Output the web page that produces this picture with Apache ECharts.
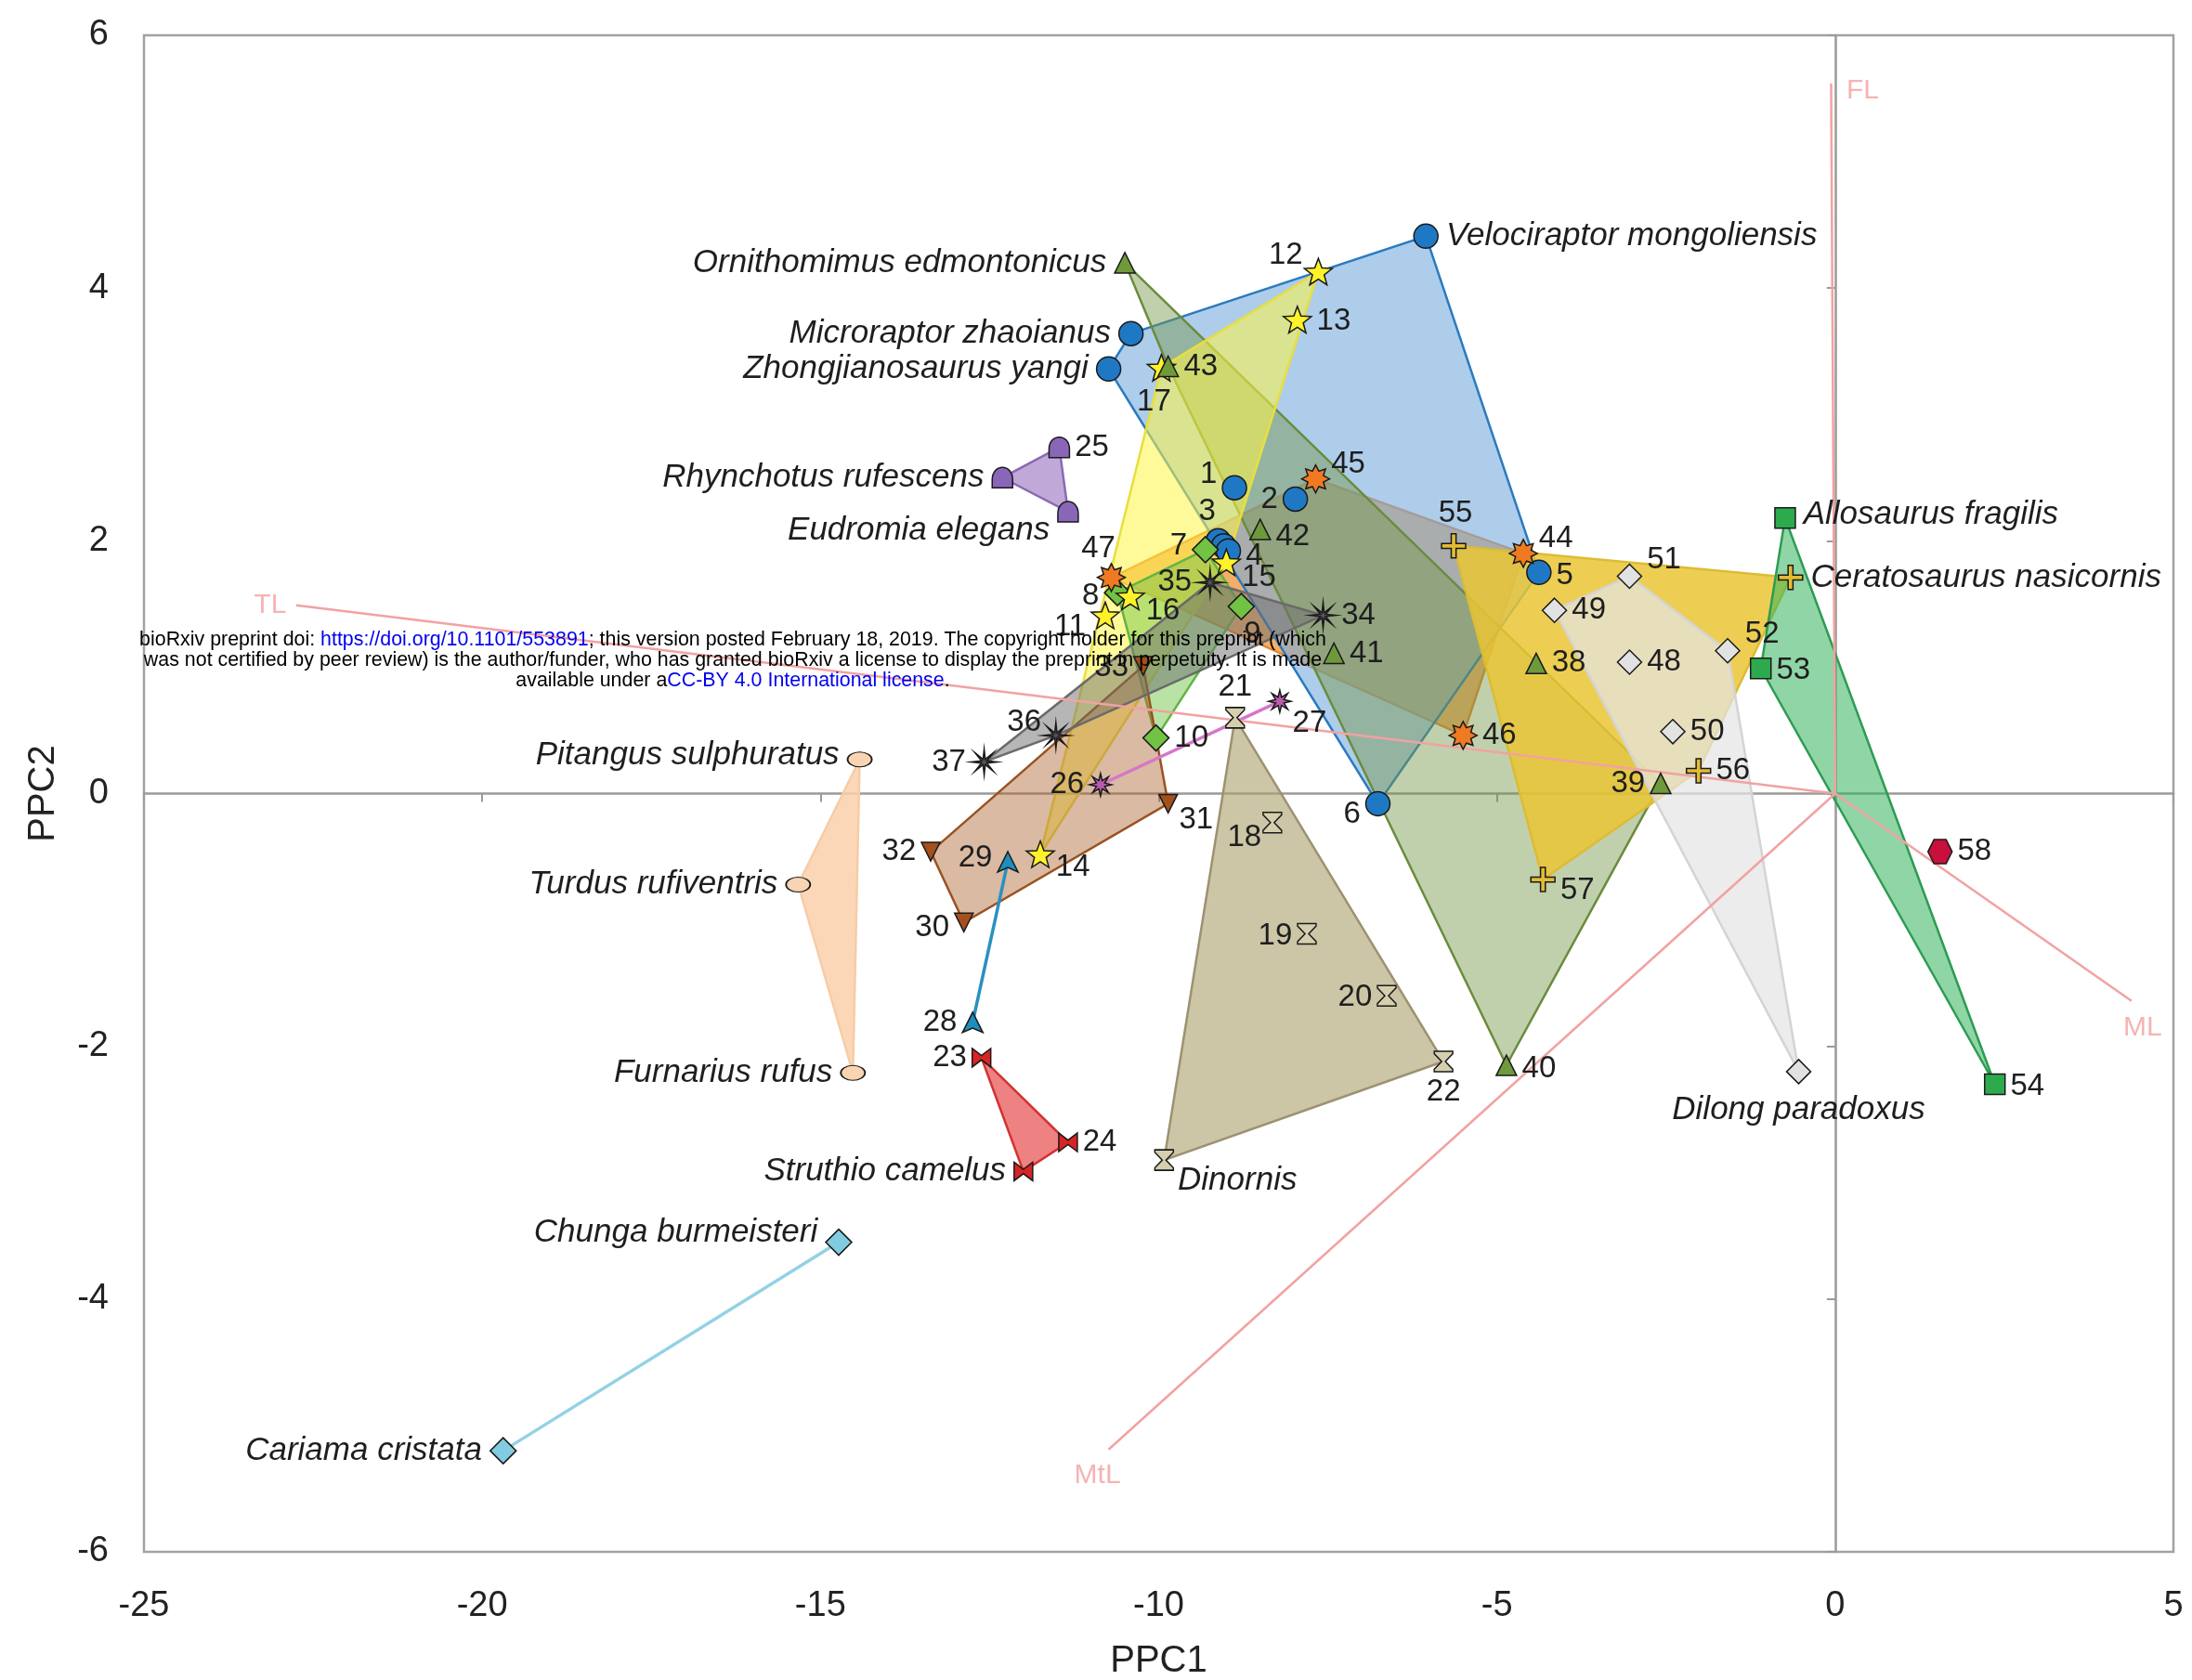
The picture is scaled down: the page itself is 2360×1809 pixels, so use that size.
<!DOCTYPE html>
<html>
<head>
<meta charset="utf-8">
<title>PPC1 / PPC2</title>
<script src="https://cdn.jsdelivr.net/npm/echarts@6/dist/echarts.min.js"></script>
<style>
    html, body { margin: 0; padding: 0; background: #fff; }
    #chart { width: 2360px; height: 1809px; }
</style>
</head>
<body>
<div id="chart"></div>
<script>
// each point: [PPC1, PPC2, label]
var dromaeosaurs = [
    [-6.05, 4.41, 'Velociraptor mongoliensis'],
    [-10.41, 3.64, 'Microraptor zhaoianus'],
    [-10.74, 3.36, 'Zhongjianosaurus yangi'],
    [-8.88, 2.42, '1'],
    [-7.98, 2.33, '2'],
    [-9.12, 2.00, '3'],
    [-9.04, 1.96, ''],
    [-8.97, 1.92, '4'],
    [-4.38, 1.75, '5'],
    [-6.76, -0.08, '6']
]
var greenDiamonds = [[-9.31, 1.93, '7'], [-10.61, 1.59, '8'], [-8.78, 1.48, '9'], [-10.04, 0.44, '10']]
var yellowStars = [
    [-10.79, 1.41, '11'], [-7.64, 4.13, '12'], [-7.95, 3.75, '13'], [-11.75, -0.48, '14'],
    [-9.00, 1.83, '15'], [-10.42, 1.56, '16'], [-9.96, 3.37, '17']
]
var moas = [
    [-8.32, -0.23, '18'], [-7.81, -1.11, '19'], [-6.63, -1.60, '20'],
    [-8.87, 0.60, '21'], [-5.79, -2.12, '22'], [-9.92, -2.90, 'Dinornis']
]
var ostriches = [[-12.62, -2.09, '23'], [-11.34, -2.76, '24'], [-12.00, -2.99, 'Struthio camelus']]
var tinamous = [[-11.47, 2.74, '25'], [-12.31, 2.50, 'Rhynchotus rufescens'], [-11.34, 2.23, 'Eudromia elegans']]
var magentaPair = [[-10.86, 0.07, '26'], [-8.21, 0.73, '27']]
var tealPair = [[-12.75, -1.81, '28'], [-12.23, -0.54, '29']]
var brownTris = [[-12.88, -1.02, '30'], [-9.86, -0.08, '31'], [-13.37, -0.46, '32'], [-10.23, 1.01, '33']]
var grayStars = [[-7.57, 1.41, '34'], [-9.24, 1.67, '35'], [-11.52, 0.46, '36'], [-12.58, 0.25, '37']]
var ornithomimids = [
    [-4.42, 1.03, '38'], [-2.58, 0.08, '39'], [-4.86, -2.15, '40'], [-7.41, 1.11, '41'],
    [-8.50, 2.09, '42'], [-9.86, 3.38, '43'], [-10.50, 4.20, 'Ornithomimus edmontonicus']
]
var orangeSuns = [[-4.61, 1.90, '44'], [-7.68, 2.49, '45'], [-5.50, 0.46, '46'], [-10.70, 1.71, '47']]
var tyrannosauroids = [
    [-3.04, 1.04, '48'], [-4.15, 1.45, '49'], [-2.40, 0.49, '50'], [-3.04, 1.72, '51'],
    [-1.59, 1.13, '52'], [-0.54, -2.20, 'Dilong paradoxus']
]
var allosaurs = [[-1.10, 0.99, '53'], [2.36, -2.30, '54'], [-0.74, 2.18, 'Allosaurus fragilis']]
var goldCrosses = [[-5.64, 1.96, '55'], [-2.02, 0.18, '56'], [-4.32, -0.68, '57'], [-0.66, 1.71, 'Ceratosaurus nasicornis']]
var hexPoint = [[1.55, -0.46, '58']]
var passerines = [[-14.42, 0.27, 'Pitangus sulphuratus'], [-15.33, -0.72, 'Turdus rufiventris'], [-14.52, -2.21, 'Furnarius rufus']]
var seriemas = [[-14.73, -3.55, 'Chunga burmeisteri'], [-19.69, -5.20, 'Cariama cristata']]

// hull outlines, by point label
var hullDromaeo = ['Microraptor zhaoianus', 'Velociraptor mongoliensis', '5', '6', 'Zhongjianosaurus yangi']
var hullGreen = ['7', '9', '10', '8']
var hullYellow = ['12', '15', '14', '17']
var hullMoa = ['21', '22', 'Dinornis']
var hullOstrich = ['23', '24', 'Struthio camelus']
var hullTinamou = ['25', 'Eudromia elegans', 'Rhynchotus rufescens']
var hullBrown = ['32', '33', '31', '30']
var hullGray = ['37', '35', '34', '36']
var hullOrnitho = ['Ornithomimus edmontonicus', '39', '40', '43']
var hullOrange = ['47', '45', '44', '46']
var hullTyranno = ['49', '51', '52', 'Dilong paradoxus']
var hullAllo = ['Allosaurus fragilis', '53', '54']
var hullGold = ['55', 'Ceratosaurus nasicornis', '56', '57']
var hullPasser = ['Pitangus sulphuratus', 'Turdus rufiventris', 'Furnarius rufus']

// loading vectors from the origin
var vectorNames = ['FL', 'TL', 'ML', 'MtL']
var vectorX = [-0.06, -22.75, 4.38, -10.74]
var vectorY = [5.62, 1.49, -1.64, -5.19]

var xTicks = { min: -25, max: 5, step: 5 }
var yTicks = { min: -6, max: 6, step: 2 }

var FONT = '"Liberation Sans", Arial, Helvetica, sans-serif'

// label placement: [position, offsetX, offsetY]
var labelSide = {
    'Velociraptor mongoliensis': ['right', 0, 0],
    'Microraptor zhaoianus': ['left', 0, 0],
    'Zhongjianosaurus yangi': ['left', 0, 0],
    '1': ['left', 0, -14], '2': ['left', 0, 0], '3': ['top', -12, 4], '4': ['right', 0, 6],
    '5': ['right', 0, 4], '6': ['left', 0, 12], '7': ['left', 0, -4], '8': ['left', 0, 4],
    '9': ['bottom', 12, -6], '10': ['right', 0, 0], '11': ['left', 0, 12], '12': ['left', 4, -18],
    '13': ['right', 0, 2], '14': ['right', -4, 14], '15': ['right', -4, 16], '16': ['right', -4, 16],
    '17': ['bottom', -8, 0], '18': ['left', 4, 16], '19': ['left', 0, 2], '20': ['left', 0, 2],
    '21': ['top', 0, 0], '22': ['bottom', 0, 0], '23': ['left', 0, 0], '24': ['right', 0, 0],
    '25': ['right', 0, 0], '26': ['left', 0, 0], '27': ['right', -4, 24], '28': ['left', 0, 0],
    '29': ['left', 0, -4], '30': ['left', 0, 6], '31': ['right', -4, 18], '32': ['left', 0, 0],
    '33': ['left', 0, 2], '34': ['right', 0, 0], '35': ['left', 0, 0], '36': ['left', 4, -14],
    '37': ['left', 0, 0], '38': ['right', 0, 0], '39': ['left', 0, 0], '40': ['right', 0, 4],
    '41': ['right', 0, 0], '42': ['right', 0, 8], '43': ['right', 0, 0], '44': ['right', -4, -16],
    '45': ['right', -4, -16], '46': ['right', 0, 0], '47': ['top', -14, 6], '48': ['right', 0, 0],
    '49': ['right', 0, 0], '50': ['right', 0, 0], '51': ['right', 0, -18], '52': ['right', 0, -18],
    '53': ['right', 0, 2], '54': ['right', 0, 2], '55': ['top', 2, 0], '56': ['right', 0, 0],
    '57': ['right', 0, 12], '58': ['right', 0, 0],
    'Allosaurus fragilis': ['right', 0, -4],
    'Ceratosaurus nasicornis': ['right', 0, 0],
    'Dilong paradoxus': ['bottom', 0, 2],
    'Dinornis': ['right', -4, 22],
    'Struthio camelus': ['left', 0, 0],
    'Rhynchotus rufescens': ['left', 0, 0],
    'Eudromia elegans': ['left', 0, 20],
    'Ornithomimus edmontonicus': ['left', 0, 0],
    'Pitangus sulphuratus': ['left', 0, -4],
    'Turdus rufiventris': ['left', 0, 0],
    'Furnarius rufus': ['left', 0, 0],
    'Chunga burmeisteri': ['left', 0, -10],
    'Cariama cristata': ['left', 0, 0]
}

function starPath(n, rOut, rIn) {
    var s = ''
    for (var i = 0; i < 2 * n; i++) {
        var r = i % 2 ? rIn : rOut
        var a = Math.PI * i / n - Math.PI / 2
        s += (i ? 'L' : 'M') + (50 + r * Math.cos(a)).toFixed(1) + ',' + (50 + r * Math.sin(a)).toFixed(1) + ' '
    }
    return 'path://' + s + 'Z'
}

var SYM = {
    star: starPath(5, 50, 21),
    sun: starPath(8, 50, 30),
    asterisk: starPath(8, 50, 11),
    hash: starPath(8, 50, 20),
    hourglass: 'path://M0,0 L100,0 L100,12 L60,50 L100,88 L100,100 L0,100 L0,88 L40,50 L0,12 Z',
    bowtie: 'path://M0,0 L50,38 L100,0 L100,100 L50,62 L0,100 Z',
    cross: 'path://M40,0 L60,0 L60,40 L100,40 L100,60 L60,60 L60,100 L40,100 L40,60 L0,60 L0,40 L40,40 Z',
    hexagon: 'path://M25,0 L75,0 L100,50 L75,100 L25,100 L0,50 Z',
    dome: 'path://M0,100 L0,60 C0,22 24,0 50,0 C76,0 100,22 100,60 L100,100 Z',
    arrow: 'path://M50,0 L100,100 L50,78 L0,100 Z'
}

function isSpecies(name) {
    return name !== '' && isNaN(Number(name))
}

function labelFor(name) {
    var side = labelSide[name] || ['right', 0, 0]
    var italic = isSpecies(name)
    return {
        show: name !== '',
        formatter: name,
        position: side[0],
        offset: [side[1], side[2]],
        distance: italic ? 8 : 5,
        fontSize: italic ? 35 : 33,
        fontStyle: italic ? 'italic' : 'normal',
        fontFamily: FONT,
        color: '#1e1e1e'
    }
}

function findPoint(pts, name) {
    for (var i = 0; i < pts.length; i++) {
        if (pts[i][2] === name) return pts[i]
    }
    return null
}

function hullSeries(pts, hull, fill, stroke, closed) {
    var ring = hull.map(function(n) { return findPoint(pts, n) })
    return {
        type: 'custom',
        coordinateSystem: 'cartesian2d',
        silent: true,
        z: 2,
        data: ring.map(function(p) { return [p[0], p[1]] }),
        renderItem: function(params, api) {
            if (params.dataIndex !== 0) return null
            var points = ring.map(function(p) { return api.coord([p[0], p[1]]) })
            if (closed === false) {
                return { type: 'polyline', shape: { points: points }, style: { stroke: stroke, lineWidth: 3.5, fill: null } }
            }
            return { type: 'polygon', shape: { points: points }, style: { fill: fill, stroke: stroke, lineWidth: 2.5 } }
        }
    }
}

function pointSeries(pts, symbol, size, color, rotate) {
    return {
        type: 'scatter',
        symbol: symbol,
        symbolSize: size,
        symbolRotate: rotate || 0,
        symbolKeepAspect: true,
        z: 5,
        itemStyle: { color: color, borderColor: '#1a1a1a', borderWidth: 1.5, opacity: 1 },
        emphasis: { disabled: true },
        data: pts.map(function(p) {
            return { value: [p[0], p[1]], name: p[2], label: labelFor(p[2]) }
        })
    }
}

var chart = echarts.init(document.getElementById('chart'))

// polygons, bottom first
var series = [
    hullSeries(orangeSuns, hullOrange, 'rgba(240,140,40,0.7)', '#e88432'),
    hullSeries(dromaeosaurs, hullDromaeo, 'rgba(120,172,222,0.6)', '#2a7bc0'),
    hullSeries(ornithomimids, hullOrnitho, 'rgba(118,150,70,0.45)', '#6a8c3c'),
    hullSeries(yellowStars, hullYellow, 'rgba(255,245,70,0.55)', '#e8de40'),
    hullSeries(greenDiamonds, hullGreen, 'rgba(115,200,75,0.5)', '#62b444'),
    hullSeries(moas, hullMoa, 'rgba(172,162,112,0.62)', '#9c9272'),
    hullSeries(passerines, hullPasser, 'rgba(251,208,170,0.85)', '#f6cca6'),
    hullSeries(tinamous, hullTinamou, 'rgba(150,112,192,0.6)', '#8a6ab2'),
    hullSeries(ostriches, hullOstrich, 'rgba(232,80,80,0.72)', '#d23232'),
    hullSeries(brownTris, hullBrown, 'rgba(172,102,52,0.45)', '#9a5222'),
    hullSeries(grayStars, hullGray, 'rgba(110,110,110,0.5)', '#6a6a6a'),
    hullSeries(goldCrosses, hullGold, 'rgba(234,198,52,0.85)', '#dcbc34'),
    hullSeries(tyrannosauroids, hullTyranno, 'rgba(228,228,228,0.72)', '#d4d4d4'),
    hullSeries(allosaurs, hullAllo, 'rgba(52,178,92,0.55)', '#2c9c52'),
    hullSeries(magentaPair, ['26', '27'], null, '#d676c8', false),
    hullSeries(tealPair, ['28', '29'], null, '#2a90c0', false),
    hullSeries(seriemas, ['Chunga burmeisteri', 'Cariama cristata'], null, '#92d2e4', false)
]

// loading vectors
vectorNames.forEach(function(name, i) {
    series.push({
        type: 'line',
        silent: true,
        z: 3,
        symbol: 'none',
        lineStyle: { color: '#f2a2a2', width: 2.5 },
        data: [[0, 0], [vectorX[i], vectorY[i]]]
    })
})
var vecLabelPos = {
    FL: { position: 'right', distance: 16, offset: [0, 8] },
    TL: { position: 'left', distance: 10, offset: [0, 0] },
    ML: { position: 'bottom', distance: 14, offset: [12, 0] },
    MtL: { position: 'bottom', distance: 12, offset: [-12, 0] }
}
series.push({
    type: 'scatter',
    silent: true,
    z: 3,
    symbolSize: 1,
    itemStyle: { color: 'rgba(0,0,0,0)' },
    data: vectorNames.map(function(name, i) {
        var lp = vecLabelPos[name]
        return {
            value: [vectorX[i], vectorY[i]],
            label: {
                show: true, formatter: name, position: lp.position, distance: lp.distance, offset: lp.offset,
                color: '#f2a0a0', fontSize: 30, fontFamily: FONT
            }
        }
    })
})

series.push(
    pointSeries(dromaeosaurs, 'circle', 26, '#1f78c4'),
    pointSeries(greenDiamonds, 'diamond', 28, '#72c244'),
    pointSeries(yellowStars, SYM.star, 30, '#fff22a'),
    pointSeries(moas, SYM.hourglass, [20, 22], '#d6cfae'),
    pointSeries(ostriches, SYM.bowtie, 20, '#d82424'),
    pointSeries(tinamous, SYM.dome, 22, '#8a66b8'),
    pointSeries(magentaPair, SYM.hash, 24, '#b85cb0'),
    pointSeries(tealPair, SYM.arrow, 22, '#1e8ebc'),
    pointSeries(brownTris, 'triangle', 20, '#a4501c', 180),
    pointSeries(grayStars, SYM.asterisk, 28, '#555555'),
    pointSeries(ornithomimids, 'triangle', 22, '#6e9a3c'),
    pointSeries(orangeSuns, SYM.sun, 30, '#f07a22'),
    pointSeries(tyrannosauroids, 'diamond', 26, '#e2e2e2'),
    pointSeries(allosaurs, 'rect', 22, '#2eaa4e'),
    pointSeries(goldCrosses, SYM.cross, 26, '#e2bc34'),
    pointSeries(hexPoint, SYM.hexagon, 26, '#c8103c'),
    pointSeries(passerines, 'circle', [26, 16], '#f8d4b2'),
    pointSeries(seriemas, 'diamond', 28, '#82cce2')
)

var axisLabelStyle = { fontSize: 38, color: '#222', fontFamily: FONT }
var noteRich = {
    k: { fontSize: 21.4, fontFamily: FONT, fill: '#000' },
    u: { fontSize: 21.4, fontFamily: FONT, fill: '#0000ee' }
}

var option = {
    backgroundColor: '#ffffff',
    animation: false,
    grid: {
        left: 155, right: 20, top: 38, bottom: 138,
        outerBoundsMode: 'none',
        show: true, borderColor: '#a2a2a2', borderWidth: 2.5, backgroundColor: 'transparent'
    },
    xAxis: [{
        type: 'value', min: xTicks.min, max: xTicks.max, interval: xTicks.step,
        axisLine: { show: false }, axisTick: { show: false }, splitLine: { show: false },
        axisLabel: Object.assign({ margin: 40 }, axisLabelStyle),
        name: 'PPC1', nameLocation: 'middle', nameGap: 98,
        nameTextStyle: { fontSize: 40, color: '#222', fontFamily: FONT }
    }, {
        type: 'value', min: xTicks.min, max: xTicks.max, interval: xTicks.step, position: 'bottom',
        axisLine: { show: true, onZero: true, onZeroAxisIndex: 0, lineStyle: { color: '#9a9a9a', width: 2.5 } },
        axisTick: { show: true, length: 9, lineStyle: { color: '#9a9a9a', width: 2 } },
        axisLabel: { show: false }, splitLine: { show: false }
    }],
    yAxis: [{
        type: 'value', min: yTicks.min, max: yTicks.max, interval: yTicks.step,
        axisLine: { show: false }, axisTick: { show: false }, splitLine: { show: false },
        axisLabel: Object.assign({ margin: 38 }, axisLabelStyle),
        name: 'PPC2', nameLocation: 'middle', nameGap: 88,
        nameTextStyle: { fontSize: 40, color: '#222', fontFamily: FONT }
    }, {
        type: 'value', min: yTicks.min, max: yTicks.max, interval: yTicks.step, position: 'left',
        axisLine: { show: true, onZero: true, onZeroAxisIndex: 0, lineStyle: { color: '#9a9a9a', width: 2.5 } },
        axisTick: { show: true, length: 9, lineStyle: { color: '#9a9a9a', width: 2 } },
        axisLabel: { show: false }, splitLine: { show: false }
    }],
    graphic: [
        {
            type: 'text', x: 789, y: 689, z: 100, silent: true,
            style: {
                text: '{k|bioRxiv preprint doi: }{u|https://doi.org/10.1101/553891}{k|; this version posted February 18, 2019. The copyright holder for this preprint (which}',
                align: 'center', verticalAlign: 'middle', rich: noteRich
            }
        },
        {
            type: 'text', x: 789, y: 711, z: 100, silent: true,
            style: {
                text: 'was not certified by peer review) is the author/funder, who has granted bioRxiv a license to display the preprint in perpetuity. It is made',
                align: 'center', verticalAlign: 'middle',
                fontSize: 21.4, fontFamily: FONT, fill: '#000'
            }
        },
        {
            type: 'text', x: 789, y: 733, z: 100, silent: true,
            style: {
                text: '{k|available under a}{u|CC-BY 4.0 International license}{k|.}',
                align: 'center', verticalAlign: 'middle', rich: noteRich
            }
        }
    ],
    series: series
}

chart.setOption(option)
</script>
</body>
</html>
